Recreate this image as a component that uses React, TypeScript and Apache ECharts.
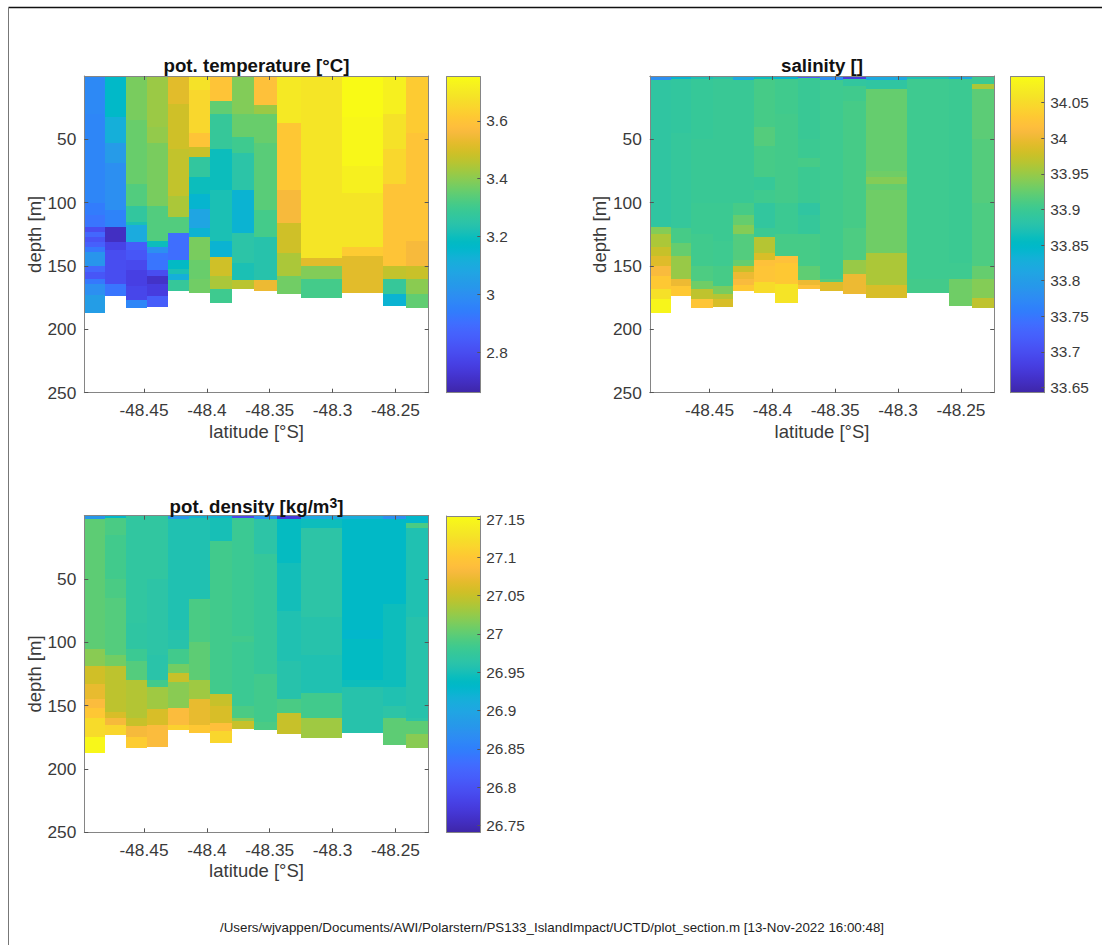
import React, { useEffect, useRef } from "react";
import * as echarts from "echarts";

// ---- data ----
const latEdges = [-48.4975, -48.481, -48.4646, -48.4473, -48.4312, -48.4145, -48.3975, -48.3797, -48.3622, -48.3439, -48.3251, -48.2927, -48.2595, -48.2415, -48.2235];
const bottomDepth = [187.4, 173.4, 183.4, 182.4, 169.5, 171.3, 179.5, 168.2, 169.5, 172.4, 175.5, 171.3, 181.3, 183.4];
const latTicks = [-48.45, -48.4, -48.35, -48.3, -48.25];
const depthTicks = [50, 100, 150, 200, 250];
const tempTicks = [2.8, 3, 3.2, 3.4, 3.6];
const salTicks = [33.65, 33.7, 33.75, 33.8, 33.85, 33.9, 33.95, 34, 34.05];
const densTicks = [26.75, 26.8, 26.85, 26.9, 26.95, 27, 27.05, 27.1, 27.15];
const tempRange = [2.662, 3.752];
const salRange = [33.6425, 34.0865];
const densRange = [26.741, 27.154];

// each column: [depth where the value starts, value]
const temperature = [
  [[0, 2.98], [30, 2.97], [100, 2.94], [110, 2.92], [119, 2.8], [123, 2.88], [127, 2.82], [131, 2.86], [135, 2.93], [139, 3.02], [150, 2.88], [155, 2.83], [160, 2.93], [164, 3.0], [173, 3.05]],
  [[0, 3.17], [32, 3.12], [53, 3.04], [69, 3.0], [106, 2.96], [119, 2.7], [131, 2.77], [137, 2.8], [164, 2.92]],
  [[0, 3.38], [35, 3.36], [85, 3.33], [103, 3.27], [115, 3.22], [118, 3.1], [131, 2.85], [137, 2.83], [145, 2.79], [153, 2.76], [166, 2.78], [177, 2.97]],
  [[0, 3.42], [40, 3.41], [53, 3.38], [103, 3.33], [130, 3.2], [135, 3.0], [140, 2.92], [153, 2.8], [158, 2.71], [164, 2.75], [174, 2.85]],
  [[0, 3.52], [22, 3.49], [58, 3.47], [95, 3.44], [111, 3.33], [124, 2.9], [145, 3.18], [152, 3.22], [156, 3.12], [161, 3.28]],
  [[0, 3.68], [11, 3.65], [45, 3.6], [56, 3.48], [64, 3.27], [80, 3.2], [93, 3.15], [105, 3.08], [120, 3.14], [127, 3.38], [145, 3.36], [160, 3.37]],
  [[0, 3.6], [20, 3.35], [30, 3.28], [58, 3.2], [90, 3.22], [130, 3.14], [143, 3.49], [158, 3.44], [168, 3.3]],
  [[0, 3.39], [30, 3.36], [48, 3.3], [61, 3.25], [90, 3.14], [124, 3.25], [148, 3.22], [161, 3.46]],
  [[0, 3.59], [23, 3.42], [30, 3.36], [53, 3.34], [106, 3.31], [127, 3.24], [161, 3.54]],
  [[0, 3.7], [37, 3.61], [90, 3.56], [116, 3.49], [140, 3.44], [158, 3.37]],
  [[0, 3.69], [144, 3.52], [150, 3.39], [160, 3.31]],
  [[0, 3.75], [32, 3.74], [71, 3.72], [92, 3.69], [135, 3.62], [142, 3.52]],
  [[0, 3.72], [30, 3.68], [58, 3.65], [85, 3.6], [150, 3.47], [160, 3.28], [172, 3.14]],
  [[0, 3.62], [45, 3.6], [130, 3.56], [150, 3.48], [160, 3.4], [172, 3.35]],
];
const salinity = [
  [[0, 33.78], [3, 33.888], [119, 33.94], [125, 33.96], [135, 33.975], [142, 33.99], [150, 34.01], [158, 34.03], [168, 34.055], [176, 34.08]],
  [[0, 33.84], [2, 33.89], [45, 33.893], [120, 33.908], [132, 33.925], [142, 33.95], [160, 34.0], [166, 34.03]],
  [[0, 33.87], [2, 33.895], [50, 33.898], [100, 33.9], [125, 33.904], [150, 33.912], [162, 33.93], [168, 33.97], [176, 34.025]],
  [[0, 33.88], [2, 33.898], [100, 33.9], [130, 33.902], [150, 33.908], [166, 33.935], [172, 33.965], [176, 33.985]],
  [[0, 33.82], [3, 33.898], [100, 33.908], [110, 33.925], [118, 33.94], [125, 33.915], [145, 33.925], [150, 33.975], [155, 34.0], [160, 34.01], [165, 34.03]],
  [[0, 33.86], [2, 33.908], [40, 33.916], [55, 33.908], [80, 33.895], [90, 33.903], [100, 33.89], [120, 33.9], [127, 33.965], [140, 33.985], [145, 34.02], [150, 34.025], [163, 34.05]],
  [[0, 33.84], [2, 33.904], [30, 33.906], [100, 33.9], [125, 33.908], [142, 34.02], [148, 34.03], [164, 34.06]],
  [[0, 33.72], [1.5, 33.898], [50, 33.9], [65, 33.908], [72, 33.9], [100, 33.888], [110, 33.894], [125, 33.908], [150, 33.922], [161, 34.0], [165, 34.02]],
  [[0, 33.78], [3, 33.902], [90, 33.904], [125, 33.904], [160, 33.916], [163, 33.99]],
  [[0, 33.68], [2.5, 33.89], [8, 33.904], [20, 33.908], [120, 33.912], [145, 33.95], [156, 34.0]],
  [[0, 33.82], [3, 33.888], [10, 33.925], [75, 33.93], [80, 33.94], [85, 33.925], [90, 33.93], [140, 33.96], [165, 33.985]],
  [[0, 33.87], [2, 33.902], [160, 33.906]],
  [[0, 33.82], [2, 33.9], [148, 33.902], [160, 33.93]],
  [[0, 33.9], [6, 33.96], [10, 33.92], [50, 33.916], [100, 33.912], [150, 33.925], [160, 33.94], [175, 33.97]],
];
const density = [
  [[0, 26.88], [3, 27.0], [105, 27.02], [119, 27.055], [133, 27.07], [145, 27.085], [152, 27.1], [160, 27.12], [175, 27.15]],
  [[0, 26.93], [2, 26.99], [15, 26.985], [50, 26.99], [65, 26.995], [110, 27.01], [119, 27.045], [155, 27.06], [160, 27.08], [165, 27.115]],
  [[0, 26.97], [85, 26.968], [105, 26.98], [115, 26.995], [130, 27.04], [160, 27.05], [166, 27.08], [175, 27.105]],
  [[0, 26.97], [50, 26.965], [110, 26.962], [130, 26.985], [135, 27.03], [153, 27.06], [165, 27.085]],
  [[0, 26.88], [3, 26.955], [90, 26.96], [105, 26.985], [117, 27.01], [124, 27.05], [131, 27.02], [152, 27.085], [165, 27.11]],
  [[0, 26.92], [2, 26.955], [66, 26.99], [100, 27.0], [130, 27.03], [145, 27.07], [165, 27.1]],
  [[0, 26.92], [2, 26.95], [20, 26.985], [141, 27.05], [150, 27.06], [164, 27.09], [170, 27.115]],
  [[0, 26.79], [1.5, 26.98], [95, 26.985], [100, 26.98], [150, 26.99], [160, 27.02], [162, 27.05]],
  [[0, 26.87], [3, 26.965], [30, 26.975], [125, 26.985], [163, 26.99]],
  [[0, 26.77], [2.5, 26.94], [37, 26.948], [75, 26.955], [115, 26.96], [145, 26.99], [156, 27.05]],
  [[0, 26.9], [3, 26.945], [10, 26.965], [80, 26.96], [110, 26.955], [140, 26.985], [160, 27.03]],
  [[0, 26.91], [3, 26.935], [90, 26.93], [97, 26.938], [130, 26.945], [135, 26.96]],
  [[0, 26.87], [3, 26.935], [70, 26.945], [135, 26.955], [150, 26.965], [160, 27.0]],
  [[0, 26.93], [6, 26.99], [10, 26.955], [80, 26.96], [160, 26.965], [162, 27.0], [172, 27.02]],
];

// ---- parula colour map ----
const PARULA = [
  [0.2422,0.1504,0.6603],[0.2504,0.165,0.7076],[0.2578,0.1818,0.7511],[0.2647,0.1978,0.7952],[0.2706,0.2147,0.8364],[0.2751,0.2342,0.871],[0.2783,0.2559,0.8991],[0.2803,0.2782,0.9221],
  [0.2813,0.3006,0.9414],[0.281,0.3228,0.9579],[0.2795,0.3447,0.9717],[0.276,0.3667,0.9829],[0.2699,0.3892,0.9906],[0.2602,0.4123,0.9952],[0.244,0.4358,0.9988],[0.2206,0.4603,0.9973],
  [0.1963,0.4847,0.9892],[0.1834,0.5074,0.9798],[0.1786,0.5289,0.9682],[0.1764,0.5499,0.952],[0.1687,0.5703,0.9359],[0.154,0.5902,0.9218],[0.146,0.6091,0.9079],[0.138,0.6276,0.8973],
  [0.1248,0.6459,0.8883],[0.1113,0.6635,0.8763],[0.0952,0.6798,0.8598],[0.0689,0.6948,0.8394],[0.0297,0.7082,0.8163],[0.0036,0.7203,0.7917],[0.0067,0.7312,0.766],[0.0433,0.7411,0.7394],
  [0.0964,0.75,0.712],[0.1408,0.7584,0.6842],[0.1717,0.767,0.6554],[0.1938,0.7758,0.6251],[0.2161,0.7843,0.5923],[0.247,0.7918,0.5567],[0.2906,0.7973,0.5188],[0.3406,0.8008,0.4789],
  [0.3909,0.8029,0.4354],[0.4456,0.8024,0.3909],[0.5044,0.7993,0.348],[0.5616,0.7942,0.3045],[0.6174,0.7876,0.2612],[0.672,0.7793,0.2227],[0.7242,0.7698,0.191],[0.7738,0.7598,0.1646],
  [0.8203,0.7498,0.1535],[0.8634,0.7406,0.1596],[0.9035,0.733,0.1774],[0.9393,0.7288,0.21],[0.9728,0.7298,0.2394],[0.9956,0.7434,0.2371],[0.997,0.7659,0.2199],[0.9952,0.7861,0.1999],
  [0.9892,0.8136,0.1885],[0.9786,0.8386,0.1766],[0.9676,0.8639,0.1643],[0.961,0.889,0.1537],[0.9597,0.9135,0.1423],[0.9628,0.9373,0.1265],[0.9691,0.9606,0.1064],[0.9769,0.9839,0.0805],
];
const rgb = (c: number[]) => `rgb(${Math.round(c[0] * 255)},${Math.round(c[1] * 255)},${Math.round(c[2] * 255)})`;
const colorOf = (v: number, r: number[]) => {
  const f = Math.max(0, Math.min(1, (v - r[0]) / (r[1] - r[0]))) * 63;
  const i = Math.min(62, Math.floor(f));
  const t = f - i;
  return rgb(PARULA[i].map((x, k) => x + (PARULA[i + 1][k] - x) * t));
};
const gradientStops = PARULA.map((c, i) => ({ offset: i / 63, color: rgb(c) }));

const FONT = "'Liberation Sans', Arial, sans-serif";
const TEXT = "#3a3a3a";
const LINE = "#858585";

const buildCells = (profiles: number[][][]) => {
  const cells: number[][] = [];
  profiles.forEach((col, c) => {
    col.forEach((seg, k) => {
      const end = k + 1 < col.length ? col[k + 1][0] : bottomDepth[c];
      cells.push([latEdges[c], latEdges[c + 1], seg[0], end, seg[1]]);
    });
  });
  return cells;
};

const panels = [
  { title: "pot. temperature [°C]", rich: false, titleTop: 55, left: 84.3, top: 76, top2: 76.7, cbLeft: 446.7, h: 316.7, range: tempRange, ticks: tempTicks, profiles: temperature },
  { title: "salinity []", rich: false, titleTop: 55, left: 649.8, top: 76, top2: 76.7, cbLeft: 1010.7, h: 316.7, range: salRange, ticks: salTicks, profiles: salinity },
  { title: "pot. density [kg/m{sup|3}]", rich: true, titleTop: 496, left: 84.3, top: 515.7, top2: 516, cbLeft: 446.7, h: 316.6, range: densRange, ticks: densTicks, profiles: density },
];

const PLOT_W = 344.4;
const CB_W = 33.6;

function buildOption() {
  const grid: any[] = [];
  const xAxis: any[] = [];
  const yAxis: any[] = [];
  const series: any[] = [];
  const title: any[] = [];

  const boxLine = { show: true, onZero: false, lineStyle: { color: LINE, width: 1 } };
  const tickStyle = (vals: number[], len = 4) => ({ show: true, inside: true, length: len, customValues: vals, lineStyle: { color: "#555", width: 1 } });

  panels.forEach((p) => {
    const gi = grid.length;
    grid.push({ left: p.left, top: p.top, width: PLOT_W, height: p.h, containLabel: false });
    const xi = xAxis.length;
    const yi = yAxis.length;
    const xBase = { type: "value", gridIndex: gi, min: latEdges[0], max: latEdges[latEdges.length - 1], splitLine: { show: false }, z: 5, silent: true };
    const yBase = { type: "value", gridIndex: gi, min: 0, max: 250, inverse: true, splitLine: { show: false }, z: 5, silent: true };
    xAxis.push({
      ...xBase, position: "bottom", axisLine: boxLine, axisTick: tickStyle(latTicks),
      axisLabel: { show: true, customValues: latTicks, margin: 9, color: TEXT, fontSize: 17.3, fontFamily: FONT, formatter: (v: number) => String(v) },
      name: "latitude [°S]", nameLocation: "middle", nameGap: 29, nameTextStyle: { color: TEXT, fontSize: 18.5, fontFamily: FONT },
    });
    xAxis.push({ ...xBase, position: "top", axisLine: boxLine, axisTick: tickStyle(latTicks), axisLabel: { show: false } });
    yAxis.push({
      ...yBase, position: "left", axisLine: boxLine, axisTick: tickStyle(depthTicks),
      axisLabel: { show: true, customValues: depthTicks, margin: 8, color: TEXT, fontSize: 17.3, fontFamily: FONT, formatter: (v: number) => String(v) },
      name: "depth [m]", nameLocation: "middle", nameGap: 39, nameTextStyle: { color: TEXT, fontSize: 18.5, fontFamily: FONT },
    });
    yAxis.push({ ...yBase, position: "right", axisLine: boxLine, axisTick: tickStyle(depthTicks), axisLabel: { show: false } });

    series.push({
      type: "custom", xAxisIndex: xi, yAxisIndex: yi, clip: true, silent: true,
      data: buildCells(p.profiles),
      encode: { x: [0, 1], y: [2, 3] },
      renderItem: (_: any, api: any) => {
        const a = api.coord([api.value(0), api.value(2)]);
        const b = api.coord([api.value(1), api.value(3)]);
        const x0 = Math.round(a[0]), x1 = Math.round(b[0]), y0 = Math.round(a[1]), y1 = Math.round(b[1]);
        return { type: "rect", shape: { x: x0, y: y0, width: x1 - x0, height: y1 - y0 }, style: { fill: colorOf(api.value(4), p.range) } };
      },
    });

    // colour bar
    const gc = grid.length;
    grid.push({ left: p.cbLeft, top: p.top2, width: CB_W, height: p.top + p.h - p.top2, containLabel: false });
    const xc = xAxis.length;
    const yc = yAxis.length;
    const xcBase = { type: "value", gridIndex: gc, min: 0, max: 1, splitLine: { show: false }, axisTick: { show: false }, axisLabel: { show: false }, axisLine: boxLine, z: 5, silent: true };
    xAxis.push({ ...xcBase, position: "bottom" });
    xAxis.push({ ...xcBase, position: "top" });
    const ycBase = { type: "value", gridIndex: gc, min: p.range[0], max: p.range[1], splitLine: { show: false }, z: 5, silent: true };
    yAxis.push({
      ...ycBase, position: "right", axisLine: boxLine, axisTick: tickStyle(p.ticks, 3),
      axisLabel: { show: true, customValues: p.ticks, margin: 6, color: TEXT, fontSize: 15.4, fontFamily: FONT, hideOverlap: false, formatter: (v: number) => String(v) },
    });
    yAxis.push({ ...ycBase, position: "left", axisLine: boxLine, axisTick: { show: false }, axisLabel: { show: false } });
    series.push({
      type: "custom", xAxisIndex: xc, yAxisIndex: yc, clip: false, silent: true,
      data: [[0, 1, p.range[0], p.range[1]]],
      encode: { x: [0, 1], y: [2, 3] },
      renderItem: (_: any, api: any) => {
        const a = api.coord([api.value(0), api.value(3)]);
        const b = api.coord([api.value(1), api.value(2)]);
        return {
          type: "rect",
          shape: { x: a[0], y: a[1], width: b[0] - a[0], height: b[1] - a[1] },
          style: { fill: { type: "linear", x: 0, y: 1, x2: 0, y2: 0, colorStops: gradientStops } },
        };
      },
    });

    title.push({
      text: p.title,
      left: p.left + PLOT_W / 2,
      top: p.titleTop,
      textAlign: "center",
      padding: 0,
      textStyle: {
        color: "#111",
        fontSize: 18.7,
        fontWeight: "bold",
        fontFamily: FONT,
        lineHeight: 20,
        rich: p.rich ? { sup: { fontSize: 14, fontWeight: "bold", fontFamily: FONT, color: "#111", verticalAlign: "top", lineHeight: 12, padding: [0, 0, 6, 0] } } : undefined,
      },
    });
  });

  return {
    animation: false,
    backgroundColor: "#ffffff",
    title,
    grid,
    xAxis,
    yAxis,
    series,
    graphic: [
      { type: "line", silent: true, shape: { x1: 8.5, y1: 7.5, x2: 1102, y2: 7.5 }, style: { stroke: "#111", lineWidth: 1.3 } },
      { type: "line", silent: true, shape: { x1: 8.5, y1: 7.5, x2: 8.5, y2: 945 }, style: { stroke: "#777", lineWidth: 1 } },
      { type: "text", silent: true, x: 552, y: 927, style: { text: "/Users/wjvappen/Documents/AWI/Polarstern/PS133_IslandImpact/UCTD/plot_section.m [13-Nov-2022 16:00:48]", fill: "#222", font: `13.35px ${FONT}`, align: "center", verticalAlign: "middle" } },
    ],
  };
}

export default function App() {
  const ref = useRef<HTMLDivElement>(null);
  useEffect(() => {
    const chart = echarts.init(ref.current!, undefined, { renderer: "svg" });
    chart.setOption(buildOption() as any);
    return () => chart.dispose();
  }, []);
  return <div ref={ref} style={{ position: "absolute", left: 0, top: 0, width: 1102, height: 945 }} />;
}
